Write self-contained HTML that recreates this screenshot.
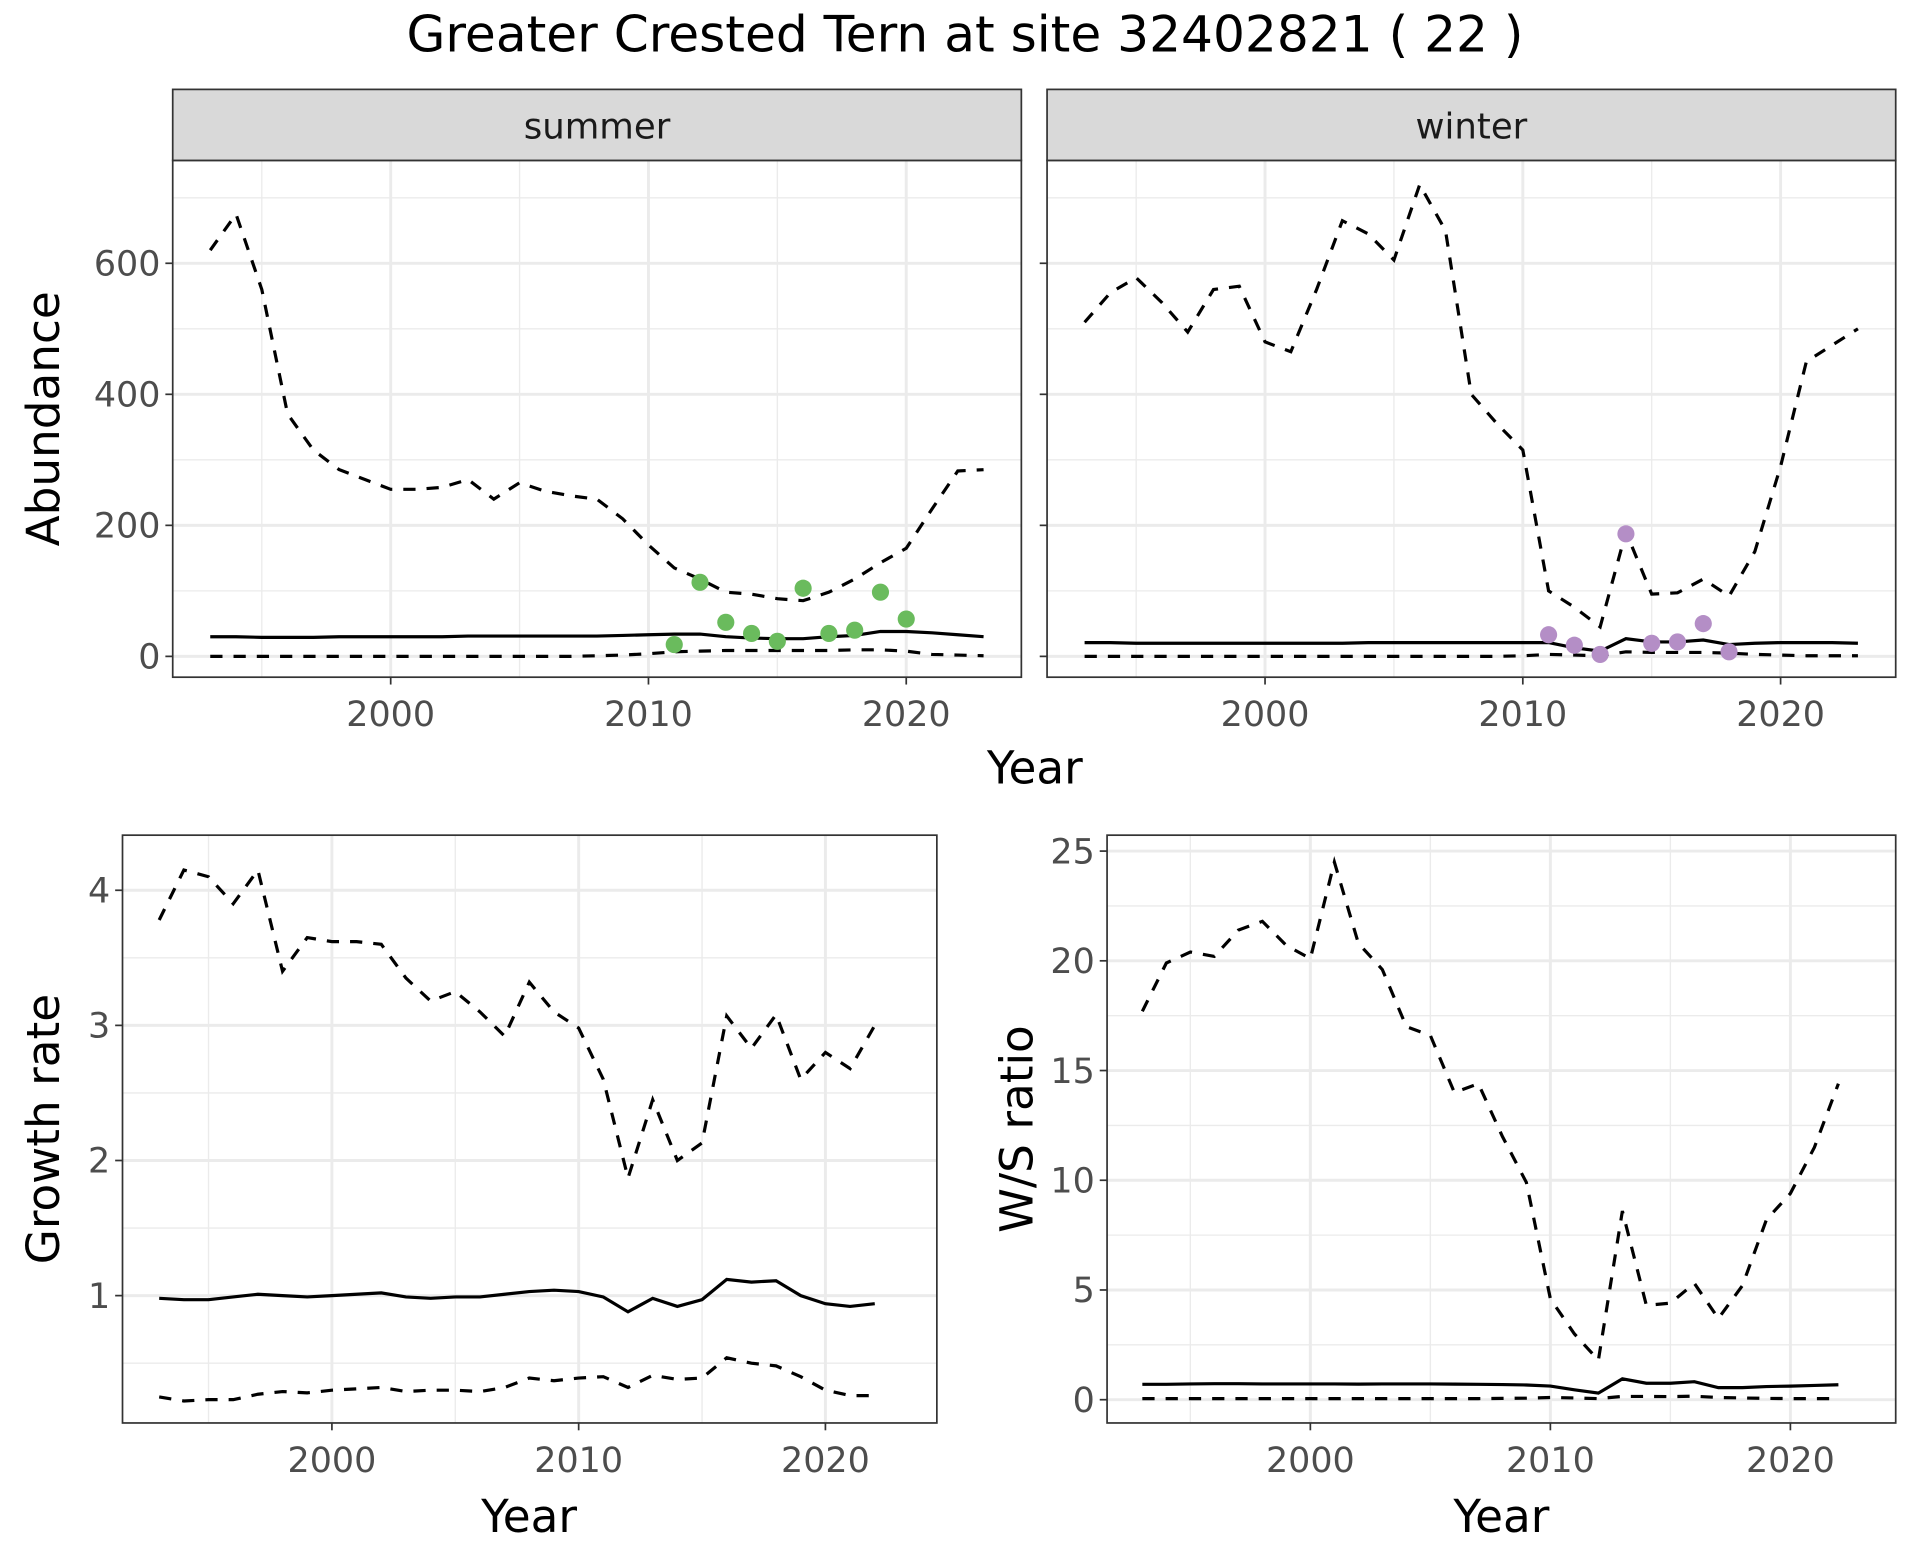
<!DOCTYPE html>
<html><head><meta charset="utf-8"><style>
html,body{margin:0;padding:0;background:#fff;}
svg{display:block;}
text{font-family:"DejaVu Sans","Liberation Sans",sans-serif;}
</style></head><body>
<svg id="chart" width="1920" height="1560" viewBox="0 0 1567.8 1273.9" xmlns="http://www.w3.org/2000/svg">
<rect width="1567.8" height="1273.9" fill="#fff"/>
<text x="788" y="42" font-size="41" text-anchor="middle" fill="#000">Greater Crested Tern at site 32402821 ( 22 )</text>
</svg>
<script>
// ---- data ----
const absYears = [1993,1994,1995,1996,1997,1998,1999,2000,2001,2002,2003,2004,2005,2006,2007,2008,2009,2010,2011,2012,2013,2014,2015,2016,2017,2018,2019,2020,2021,2022,2023];
const summerUpper = [620,675,560,370,315,285,270,255,255,258,270,240,265,252,245,240,210,170,135,118,98,95,88,85,98,118,143,165,225,283,285];
const summerMean  = [30,30,29,29,29,30,30,30,30,30,31,31,31,31,31,31,32,33,34,34,30,28,27,27,30,32,38,38,36,33,30];
const summerLower = [0,0,0,0,0,0,0,0,0,0,0,0,0,0,0,1,2,4,7,8,9,9,9,9,9,10,10,8,3,2,1];
const summerObsYears = [2011,2012,2013,2014,2015,2016,2017,2018,2019,2020];
const summerObs = [18,113,52,35,23,104,35,40,98,57];
const winterUpper = [510,555,578,540,495,560,565,480,465,560,665,645,605,720,650,400,355,315,100,75,45,190,95,97,118,92,160,290,450,475,500];
const winterMean  = [21,21,20,20,20,20,20,20,20,20,20,21,21,21,21,21,21,21,21,13,8,27,22,22,25,18,20,21,21,21,20];
const winterLower = [0,0,0,0,0,0,0,0,0,0,0,0,0,0,0,0,0,1,3,2,1,7,6,6,6,5,3,2,1,1,1];
const winterObsYears = [2011,2012,2013,2014,2015,2016,2017,2018];
const winterObs = [33,17,3,187,20,22,50,7];
const rateYears = [1993,1994,1995,1996,1997,1998,1999,2000,2001,2002,2003,2004,2005,2006,2007,2008,2009,2010,2011,2012,2013,2014,2015,2016,2017,2018,2019,2020,2021,2022];
const growthUpper = [3.78,4.15,4.1,3.9,4.15,3.4,3.65,3.62,3.62,3.6,3.35,3.18,3.25,3.1,2.92,3.32,3.1,2.98,2.6,1.87,2.45,2.0,2.13,3.07,2.83,3.08,2.6,2.8,2.68,3.0];
const growthMean  = [0.98,0.97,0.97,0.99,1.01,1.0,0.99,1.0,1.01,1.02,0.99,0.98,0.99,0.99,1.01,1.03,1.04,1.03,0.99,0.88,0.98,0.92,0.97,1.12,1.1,1.11,1.0,0.94,0.92,0.94];
const growthLower = [0.25,0.22,0.23,0.23,0.27,0.29,0.28,0.3,0.31,0.32,0.29,0.3,0.3,0.29,0.32,0.39,0.37,0.39,0.4,0.32,0.41,0.38,0.39,0.54,0.5,0.48,0.4,0.3,0.26,0.26];
const ratioUpper = [17.7,19.9,20.4,20.2,21.4,21.8,20.7,20.1,24.5,20.8,19.6,17.0,16.6,14.0,14.4,12.0,9.9,4.6,3.0,1.8,8.6,4.3,4.4,5.3,3.7,5.2,8.2,9.4,11.5,14.4];
const ratioMean  = [0.7,0.7,0.72,0.73,0.73,0.72,0.72,0.72,0.72,0.71,0.72,0.72,0.72,0.71,0.7,0.69,0.67,0.62,0.45,0.3,0.95,0.75,0.75,0.82,0.55,0.55,0.6,0.62,0.65,0.68];
const ratioLower = [0.05,0.05,0.05,0.05,0.05,0.05,0.05,0.05,0.05,0.05,0.05,0.05,0.05,0.05,0.05,0.06,0.07,0.1,0.08,0.05,0.15,0.15,0.14,0.16,0.1,0.08,0.06,0.05,0.05,0.05];
const absTicks = [0,200,400,600];
const absMinor = [100,300,500,700];
const yearTicks = [2000,2010,2020];
const yearMinor = [1995,2005,2015];
const growthTicks = [1,2,3,4];
const growthMinor = [0.5,1.5,2.5,3.5];
const ratioTicks = [0,5,10,15,20,25];
const ratioMinor = [2.5,7.5,12.5,17.5,22.5];

const NS = 'http://www.w3.org/2000/svg';
const svg = document.getElementById('chart');
function el(tag, attrs, parent, txt){
  const e = document.createElementNS(NS, tag);
  for (const k in attrs) e.setAttribute(k, attrs[k]);
  if (txt !== undefined) e.textContent = txt;
  (parent || svg).appendChild(e);
  return e;
}
function scale(d0, d1, r0, r1){ return v => r0 + (v - d0) * (r1 - r0) / (d1 - d0); }

function panel(cfg){
  const g = el('g', {});
  
  
  const {x0,x1,y0,y1,xs,ys} = cfg;
  el('rect',{x:x0,y:y0,width:x1-x0,height:y1-y0,fill:'#fff'},g);
  cfg.yMinor.forEach(v=>{ const y=ys(v); if(y>y0&&y<y1){ const l=el('line',{x1:x0,x2:x1,y1:y,y2:y,stroke:'#ebebeb','stroke-width':1.1},g);
      }});
  yearMinor.forEach(v=>{ const x=xs(v); const l=el('line',{x1:x,x2:x,y1:y0,y2:y1,stroke:'#ebebeb','stroke-width':1.1},g);
      });
  cfg.yTicks.forEach(v=>{ const y=ys(v); const l=el('line',{x1:x0,x2:x1,y1:y,y2:y,stroke:'#ebebeb','stroke-width':2.4},g);
      });
  yearTicks.forEach(v=>{ const x=xs(v); const l=el('line',{x1:x,x2:x,y1:y0,y2:y1,stroke:'#ebebeb','stroke-width':2.4},g);
      });
  cfg.series.forEach(s=>{
    const d = s.xv.map((yr,i)=>(i?'L':'M')+xs(yr).toFixed(2)+','+ys(s.v[i]).toFixed(2)).join(' ');
    const p = el('path',{d:d,fill:'none',stroke:'#000','stroke-width':2.6,'stroke-dasharray':s.dash?'10,9':'none'},g);
    
    
  });
  if (cfg.points){
    cfg.points.xv.forEach((yr,i)=>{
      const c = el('circle',{cx:xs(yr),cy:ys(cfg.points.v[i]),r:7,fill:cfg.points.color},g);
      
      
    });
  }
  el('rect',{x:x0,y:y0,width:x1-x0,height:y1-y0,fill:'none',stroke:'#333','stroke-width':1.4},g);
  yearTicks.forEach(v=>{ const x=xs(v);
    el('line',{x1:x,x2:x,y1:y1,y2:y1+6,stroke:'#333','stroke-width':1.4},g);
    const t=el('text',{x:x,y:y1+40,'font-size':28.5,'text-anchor':'middle',fill:'#4d4d4d'},g,String(v));
     
  });
  cfg.yTicks.forEach(v=>{ const y=ys(v);
    el('line',{x1:x0-6,x2:x0,y1:y,y2:y,stroke:'#333','stroke-width':1.4},g);
    if (cfg.yLabels){
      const t=el('text',{x:x0-10,y:y+10,'font-size':28.5,'text-anchor':'end',fill:'#4d4d4d'},g,String(v));
       
    }
  });
  if (cfg.strip){
    const r=el('rect',{x:x0,y:y0-58,width:x1-x0,height:58,fill:'#d9d9d9',stroke:'#333','stroke-width':1.4},g);
     
    const t=el('text',{x:(x0+x1)/2,y:y0-18,'font-size':29,'text-anchor':'middle',fill:'#1a1a1a'},g,cfg.strip);
     
  }
  if (cfg.xTitle){
    const t=el('text',{x:cfg.xTitle[0],y:cfg.xTitle[1],'font-size':37,'text-anchor':'middle',fill:'#000'},g,'Year');
     
  }
  if (cfg.yTitle){
    const t=el('text',{x:0,y:0,'font-size':37,'text-anchor':'middle',fill:'#000',transform:`translate(${cfg.yTitle[1]},${(y0+y1)/2}) rotate(-90)`},g,cfg.yTitle[0]);
     
  }
}

const absYs = scale(0,600,536,215);
panel({name:'summer-panel',x0:141,x1:834,y0:131,y1:553,xs:scale(2000,2020,319,740),ys:absYs,
  yTicks:absTicks,yMinor:absMinor,yLabels:true,strip:'summer',yTitle:['Abundance',48],
  series:[{name:'summer-upper-bound',xv:absYears,v:summerUpper,dash:true},{name:'summer-mean',xv:absYears,v:summerMean},{name:'summer-lower-bound',xv:absYears,v:summerLower,dash:true}],
  points:{xv:summerObsYears,v:summerObs,color:'#6abb5d'}});
panel({name:'winter-panel',x0:855,x1:1548,y0:131,y1:553,xs:scale(2000,2020,1033,1454),ys:absYs,
  yTicks:absTicks,yMinor:absMinor,yLabels:false,strip:'winter',xTitle:[845,640],
  series:[{name:'winter-upper-bound',xv:absYears,v:winterUpper,dash:true},{name:'winter-mean',xv:absYears,v:winterMean},{name:'winter-lower-bound',xv:absYears,v:winterLower,dash:true}],
  points:{xv:winterObsYears,v:winterObs,color:'#b48ec6'}});
panel({name:'growth-rate-panel',x0:100,x1:765,y0:682,y1:1162,xs:scale(2000,2020,271,674),ys:scale(1,4,1058,727),
  yTicks:growthTicks,yMinor:growthMinor,yLabels:true,xTitle:[432,1251],yTitle:['Growth rate',48],
  series:[{name:'growth-upper-bound',xv:rateYears,v:growthUpper,dash:true},{name:'growth-mean',xv:rateYears,v:growthMean},{name:'growth-lower-bound',xv:rateYears,v:growthLower,dash:true}]});
panel({name:'ws-ratio-panel',x0:904,x1:1548,y0:682,y1:1162,xs:scale(2000,2020,1070,1462),ys:scale(0,25,1143,695),
  yTicks:ratioTicks,yMinor:ratioMinor,yLabels:true,xTitle:[1226,1251],yTitle:['W/S ratio',843],
  series:[{name:'ratio-upper-bound',xv:rateYears,v:ratioUpper,dash:true},{name:'ratio-mean',xv:rateYears,v:ratioMean},{name:'ratio-lower-bound',xv:rateYears,v:ratioLower,dash:true}]});
</script>
</body></html>
